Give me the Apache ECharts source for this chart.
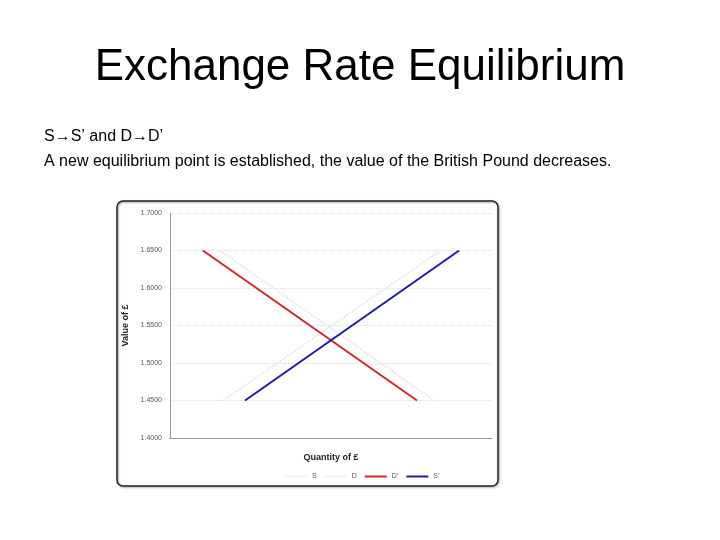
<!DOCTYPE html><html><head><meta charset="utf-8"><script src="https://cdn.jsdelivr.net/npm/echarts@6/dist/echarts.min.js"></script></head><body style="margin:0;background:#fff"><div id="c" style="width:720px;height:540px"></div><script>
const yTicks=[1.40,1.45,1.50,1.55,1.60,1.65,1.70];
const S=[[1.65,1.45],[8.4,1.65]];
const D=[[1.55,1.65],[8.2,1.45]];
const D2=[[1.02,1.65],[7.67,1.45]];
const S2=[[2.33,1.45],[8.98,1.65]];
const c=echarts.init(document.getElementById('c'));
c.setOption({
 animation:false,
 graphic:[
  {type:'text',left:'center',top:46,style:{text:'Exchange Rate Equilibrium',font:'44px Liberation Sans, Arial',fill:'#000'}},
  {type:'text',left:44,top:124,style:{text:'S\u2192S\u2019 and D\u2192D\u2019\nA new equilibrium point is established, the value of the British Pound decreases.',font:'16px Liberation Sans, Arial',lineHeight:25,fill:'#000'}},
  {type:'rect',shape:{x:117,y:201,width:381,height:285,r:6},style:{fill:'none',stroke:'#222',lineWidth:1.5,shadowColor:'rgba(0,0,0,0.4)',shadowBlur:2,shadowOffsetX:1,shadowOffsetY:1},z:-1}
 ],
 grid:{left:170,top:213,width:322,height:225},
 xAxis:{type:'value',min:0,max:10,axisLabel:{show:false},axisTick:{show:false},splitLine:{show:false},axisLine:{lineStyle:{color:'#999'}},name:'Quantity of £',nameLocation:'middle',nameGap:15,nameTextStyle:{fontSize:9,fontWeight:'bold',color:'#222'}},
 yAxis:{type:'value',min:1.4,max:1.7,interval:0.05,axisLabel:{formatter:v=>v.toFixed(4),fontSize:7,color:'#555'},axisTick:{show:false},axisLine:{show:true,lineStyle:{color:'#999'}},splitLine:{lineStyle:{color:'#ddd',type:'dotted'}},name:'Value of £',nameLocation:'middle',nameGap:40,nameTextStyle:{fontSize:9,fontWeight:'bold',color:'#222'}},
 legend:{top:468,left:280,itemWidth:22,itemHeight:2,itemGap:8,textStyle:{fontSize:7,color:'#555'},icon:'rect',data:['S','D','D\u2019','S\u2019']},
 series:[
  {name:'S',type:'line',data:S,symbol:'none',lineStyle:{color:'#ddd',width:1.5,type:'dotted'},itemStyle:{color:'#eee'}},
  {name:'D',type:'line',data:D,symbol:'none',lineStyle:{color:'#ddd',width:1.5,type:'dotted'},itemStyle:{color:'#eee'}},
  {name:'D\u2019',type:'line',data:D2,symbol:'none',lineStyle:{color:'#d0262a',width:2},itemStyle:{color:'#d0262a'}},
  {name:'S\u2019',type:'line',data:S2,symbol:'none',lineStyle:{color:'#1c1ca8',width:2},itemStyle:{color:'#1c1ca8'}}
 ]
});
</script></body></html>
